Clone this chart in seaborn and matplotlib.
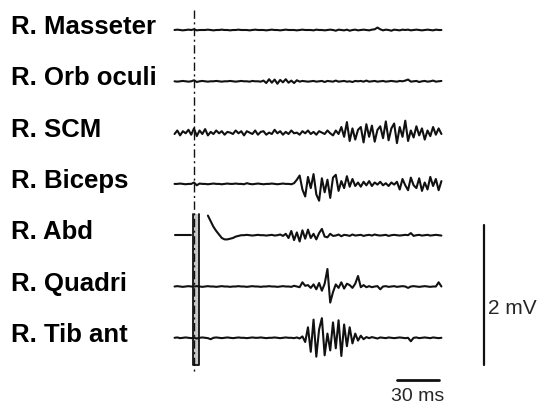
import numpy as np
import pandas as pd
import matplotlib
matplotlib.use("Agg")
import matplotlib.pyplot as plt
import seaborn as sns

nan = np.nan

# sampling grid of the sweeps (ms, stimulus at 0)
time_ms = list(range(-14, 180, 2))

muscles = ["R. Masseter", "R. Orb oculi", "R. SCM", "R. Biceps",
           "R. Abd", "R. Quadri", "R. Tib ant"]

# EMG amplitudes, in microvolts
masseter = [0, 5, 0, -5, 0, 5, 0, 10, -5, 0,
            0, 0, 5, 0, -5, 0, 0, 5, 0, 0,
            -5, 0, 0, 5, 0, 0, 0, -5, 0, 5,
            0, 0, 0, -5, 0, 5, 0, 0, -5, 0,
            5, 0, 0, 0, -5, 0, 5, 0, 0, 0,
            -5, 5, 0, 0, -5, 0, 5, 0, -10, 5,
            0, -5, 5, -10, 0, 5, -5, 0, 5, 0,
            -5, 5, 10, 35, 10, -5, 5, 0, -10, 5,
            0, -5, 5, 0, 5, -5, 0, 5, 0, -5,
            0, 5, 0, -5, 5, 0, 0]
orb_oculi = [0, -5, 0, 5, 0, -5, 0, 15, -10, 0,
             5, 0, -5, 0, 0, 5, 0, -5, 0, 0,
             5, 0, -5, 0, 5, 0, 0, -5, 5, 0,
             0, -5, 10, -25, 30, -20, 25, -35, 20, -15,
             30, -20, 10, -25, 15, -5, 5, 0, -5, 0,
             5, -5, 0, 5, -10, 5, 0, -5, 10, -5,
             0, 5, -5, 0, -10, 5, 0, 5, -5, 10,
             -5, 0, 5, -5, 0, 5, -5, 0, 5, 0,
             -5, 5, 0, 10, 25, -5, 0, 5, -10, 0,
             5, -5, 0, 10, -5, 0, 5]
scm = [-20, 30, -40, 20, -10, 40, -30, 60, -50, 30,
       -20, 50, -40, 10, -20, 30, -10, 20, -30, 10,
       0, -20, 30, -10, 20, -40, 20, 0, -20, 30,
       -30, 10, 20, -30, 0, -20, 40, -10, 20, -30,
       10, -20, 30, -10, 0, -30, 20, -10, 30, -20,
       10, -30, 20, 0, -20, 30, -10, -40, 30, -20,
       80, -60, 150, -120, 60, -100, 40, 80, -140, 120,
       -60, 100, -130, 40, 90, -80, 160, -110, 60, 130,
       -150, 80, -60, 170, -120, 30, -70, 90, -40, 60,
       -100, 30, -50, 80, -30, 60, -20]
biceps = [0, 0, 5, 0, -5, 0, 0, 20, -20, 5,
          0, 0, -5, 0, 5, 0, 0, -5, 0, 5,
          0, 0, 5, 0, 0, -5, 10, 0, -5, 0,
          5, 0, -5, 0, 0, 5, 0, -5, 0, 5,
          0, 0, -5, 10, 60, 120, -80, -180, 100, -60,
          140, -150, -240, 80, -120, 60, -200, 90, 130, -100,
          40, -60, 110, -40, 70, -30, 20, -40, 30, -20,
          40, -30, 20, -10, 30, -20, 10, -30, 20, -10,
          30, -80, 70, -20, -90, 90, -20, -60, 80, -100,
          20, -80, 100, -30, 70, -90, 40]
abd = [0, 0, 0, 0, 0, 0, 0, nan, nan, nan,
       nan, nan, 280, 200, 120, 60, 10, -40, -60, -60,
       -50, -40, -20, -10, 0, 0, 5, 0, -5, 0,
       5, 0, 0, -5, 0, 5, -5, 0, 10, -10,
       20, -40, 60, -70, 40, -90, 70, -50, 80, -40,
       20, -60, 30, 90, -20, -30, 20, -10, -5, 10,
       -15, 5, 0, -10, 10, -5, 0, 5, -10, 0,
       5, -5, 10, 0, -5, 0, 5, -10, 0, 5,
       0, -5, 0, 5, 0, 30, -10, 0, 5, -5,
       0, 5, -5, 0, 5, 0, -5]
quadri = [0, 5, 0, -5, 0, 5, 0, 0, 5, 0,
          -5, 0, 5, 0, 0, -5, 0, 5, 0, 0,
          -5, 0, 0, 5, 0, 0, -5, 0, 5, 0,
          0, -5, 0, 0, 5, 0, 0, -5, 0, 5,
          0, 0, -5, 10, 0, -10, 60, 10, 20, -20,
          30, -40, 50, -60, 40, 250, -230, -80, 30, -20,
          60, -30, 40, 20, -20, 40, 150, -10, 20, -10,
          5, -10, 0, 5, -40, 0, 5, -5, 0, 5,
          -5, 0, 5, 0, -20, 0, 5, 0, -5, 0,
          5, 0, -5, 0, 0, 60, 0]
tib_ant = [0, 5, -5, 0, 5, 0, -5, 0, -10, 0,
           5, 0, -5, -20, 0, 5, 0, -5, 0, 5,
           0, -5, 0, 5, 0, 0, -5, 0, 5, 0,
           0, 5, 0, -5, 0, 0, 5, 0, -5, 0,
           5, 0, 0, -5, 5, -10, 20, -60, 150, -200,
           260, -270, 120, 280, -250, 60, -180, 220, -150, 250,
           -260, 190, -120, 150, -80, 60, -40, 30, -20, 10,
           -5, 10, 0, -10, 5, 0, -5, 5, 0, -5,
           0, 5, 0, -5, 0, -50, 0, 5, -5, 0,
           5, 0, -5, 5, 0, -5, 0]

# stimulus artefact on the Abd channel (ms, microvolts)
artifact_t = [-0.7, -0.7, 3.6, 3.6]
artifact_v = [310, -1860, -1860, 310]

scale_ms = 30
scale_mv = 2

traces = [masseter, orb_oculi, scm, biceps, abd, quadri, tib_ant]

# ---- layout (pixel geometry of the original) ----
W, H, DPI = 543, 405, 100
X0 = 194.0          # stimulus position, px
PX_MS = 1.39        # px per ms
PX_MV = 70.0        # px per mV
def px_x(px):
    return (px - X0) / PX_MS
def px_y(px):
    return -px / PX_MV

sns.set_style("white")
plt.rcParams["font.family"] = ["Liberation Sans", "DejaVu Sans"]

fig = plt.figure(figsize=(W / DPI, H / DPI), dpi=DPI)
ax = fig.add_axes([0, 0, 1, 1])
ax.set_xlim(px_x(0), px_x(W))
ax.set_ylim(px_y(H), px_y(0))
ax.axis("off")

first_px, step_px = 30.0, 51.3
ink = "#111111"

for i, (name, vals) in enumerate(zip(muscles, traces)):
    off = px_y(first_px + step_px * i)
    v = np.asarray(vals, dtype=float)
    seg = np.cumsum(np.isnan(v))
    df = pd.DataFrame({"t": time_ms, "v": v / 1000.0 + off, "seg": seg})
    df = df.dropna()
    sns.lineplot(data=df, x="t", y="v", units="seg", estimator=None,
                 sort=False, color=ink, lw=1.5, ax=ax, legend=False)
    ax.text(px_x(11), off - 4 / PX_MV, name, fontsize=18.5,
            fontweight="bold", va="baseline", ha="left", color="black")

# artefact on Abd channel
abd_off = px_y(first_px + step_px * 4)
art = pd.DataFrame({"t": artifact_t,
                    "v": np.asarray(artifact_v) / 1000.0 + abd_off})
ax.fill_betweenx([art["v"].min(), art["v"].max()], artifact_t[0],
                 artifact_t[2], color="#c8c8c8", lw=0)
sns.lineplot(data=art, x="t", y="v", sort=False, estimator=None,
             color=ink, lw=1.3, ax=ax)

# stimulus marker (dash-dot)
ax.plot([0, 0], [px_y(10), px_y(372)], color=ink, lw=1.0,
        ls=(0, (6, 2.5, 1.5, 2.5)))

# scale bars
ax.plot([px_x(484), px_x(484)], [px_y(225), px_y(225) - scale_mv],
        color=ink, lw=1.6)
ax.text(px_x(488), px_y(314), f"{scale_mv} mV", fontsize=15,
        va="baseline", ha="left")
bar_x0 = px_x(397)
ax.plot([bar_x0, bar_x0 + scale_ms], [px_y(380), px_y(380)],
        color=ink, lw=2.0)
ax.text(bar_x0 + scale_ms / 2, px_y(401), f"{scale_ms} ms", fontsize=14,
        va="baseline", ha="center")

fig.savefig("out.png", dpi=DPI)
